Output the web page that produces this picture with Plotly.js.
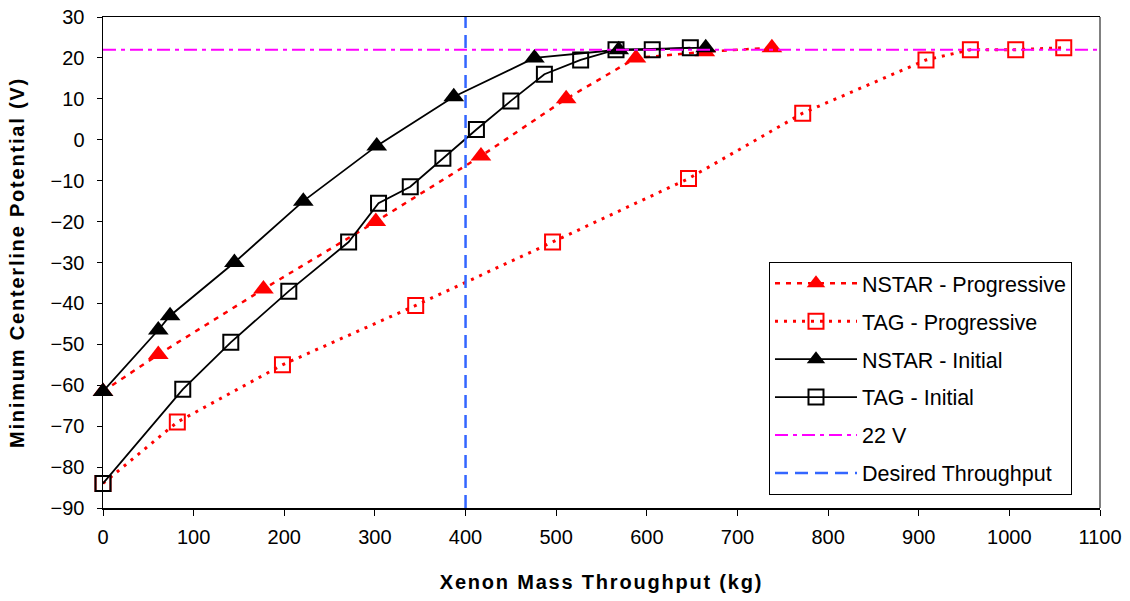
<!DOCTYPE html>
<html>
<head>
<meta charset="utf-8">
<script src="https://cdn.plot.ly/plotly-3.0.1.min.js"></script>
<style>
  html, body { margin: 0; padding: 0; background: #fff; }
  #chart { width: 1130px; height: 601px; }
  /* widen the spacing of both axis titles */
  #chart .g-xtitle text { letter-spacing: 1.8px; }
  #chart .g-ytitle text { letter-spacing: 1.8px; }
</style>
</head>
<body>
<div id="chart"></div>
<script>
// Minimum centerline potential vs. xenon mass throughput
const nstarProgX = [0, 61, 177, 301, 417, 511, 588, 664, 738];
const nstarProgY = [-61.5, -52.5, -36.5, -20, -4, 10, 20, 21.5, 22.5];

const tagProgX = [0, 82, 198, 345, 496, 646, 772, 908, 957, 1007, 1060];
const tagProgY = [-84, -69, -55, -40.5, -25, -9.5, 6.5, 19.5, 22, 22, 22.5];

const nstarInitX = [0, 61, 74, 145, 221, 302, 387, 476, 569, 665];
const nstarInitY = [-61.5, -46.5, -43, -30, -15, -1.5, 10.5, 20, 22, 22.5];

const tagInitX = [0, 88, 141, 205, 271, 304, 339, 375, 412, 450, 487, 527, 566, 606, 648];
const tagInitY = [-84, -61, -49.5, -37, -25, -15.5, -11.5, -4.5, 2.5, 9.5, 16, 19.5, 22, 22, 22.5];

const thresholdVolts = 22;          // 22 V reference level
const desiredThroughput = 400;      // kg
const xRange = [0, 1100];
const yRange = [-90, 30];

const traces = [
  {
    name: 'NSTAR - Progressive', x: nstarProgX, y: nstarProgY, legendgroup: 'a',
    mode: 'lines+markers', cliponaxis: false,
    line: { color: '#FF0000', width: 2.5, dash: '5px,6px' },
    marker: { symbol: 'triangle-up', size: 18, color: '#FF0000' }
  },
  {
    name: 'TAG - Progressive', x: tagProgX, y: tagProgY, legendgroup: 'b',
    mode: 'lines+markers', cliponaxis: false,
    line: { color: '#FF0000', width: 3, dash: '3px,6px' },
    marker: { symbol: 'square-open', size: 15, color: '#FF0000', line: { color: '#FF0000', width: 2 } }
  },
  {
    name: 'NSTAR - Initial', x: nstarInitX, y: nstarInitY, legendgroup: 'c',
    mode: 'lines+markers', cliponaxis: false,
    line: { color: '#000000', width: 1.8 },
    marker: { symbol: 'triangle-up', size: 18, color: '#000000' }
  },
  {
    name: 'TAG - Initial', x: tagInitX, y: tagInitY, legendgroup: 'd',
    mode: 'lines+markers', cliponaxis: false,
    line: { color: '#000000', width: 1.8 },
    marker: { symbol: 'square-open', size: 15, color: '#000000', line: { color: '#000000', width: 2 } }
  },
  {
    name: '22 V', x: xRange, y: [thresholdVolts, thresholdVolts], legendgroup: 'e',
    mode: 'lines', hoverinfo: 'skip',
    line: { color: '#FF00FF', width: 2, dash: '13px,5px,4px,5px' }
  },
  {
    name: 'Desired Throughput', x: [desiredThroughput, desiredThroughput], y: yRange, legendgroup: 'f',
    mode: 'lines', hoverinfo: 'skip',
    line: { color: '#3366FF', width: 2.5, dash: '13px,7px' }
  }
];

const fontFamily = 'Liberation Sans, Arial, sans-serif';

const layout = {
  width: 1130,
  height: 601,
  margin: { l: 103, r: 30, t: 17, b: 93 },
  paper_bgcolor: '#ffffff',
  plot_bgcolor: '#ffffff',
  font: { family: fontFamily, size: 20, color: '#000000' },
  showlegend: true,
  legend: {
    x: 0.668, y: 0.5015, xanchor: 'left', yanchor: 'top',
    bgcolor: '#ffffff', bordercolor: '#000000', borderwidth: 1,
    font: { family: fontFamily, size: 21.5, color: '#000000' },
    traceorder: 'grouped', tracegroupgap: 7, itemwidth: 82
  },
  xaxis: {
    range: xRange, dtick: 100, tick0: 0,
    showgrid: false, zeroline: false,
    showline: true, linecolor: '#000000', linewidth: 1.5, mirror: true,
    ticks: 'outside', ticklen: 6, tickcolor: '#000000', tickwidth: 1,
    tickfont: { size: 20 }, ticklabelstandoff: 4,
    title: { text: '<b>Xenon Mass Throughput (kg)</b>', font: { size: 20 }, standoff: 28 }
  },
  yaxis: {
    range: yRange, dtick: 10, tick0: 0,
    showgrid: false, zeroline: false,
    showline: true, linecolor: '#000000', linewidth: 1.5,
    ticks: 'outside', ticklen: 5, tickcolor: '#000000', tickwidth: 1,
    tickfont: { size: 20 }, ticklabelstandoff: 8,
    title: { text: '<b>Minimum Centerline Potential (V)</b>', font: { size: 20 }, standoff: 20 }
  },
  shapes: [
    {
      type: 'line', xref: 'paper', yref: 'paper', x0: 1, x1: 1, y0: 0, y1: 1,
      line: { color: '#808080', width: 2 }
    }
  ]
};

Plotly.newPlot('chart', traces, layout, { staticPlot: true, displayModeBar: false });
</script>
</body>
</html>
